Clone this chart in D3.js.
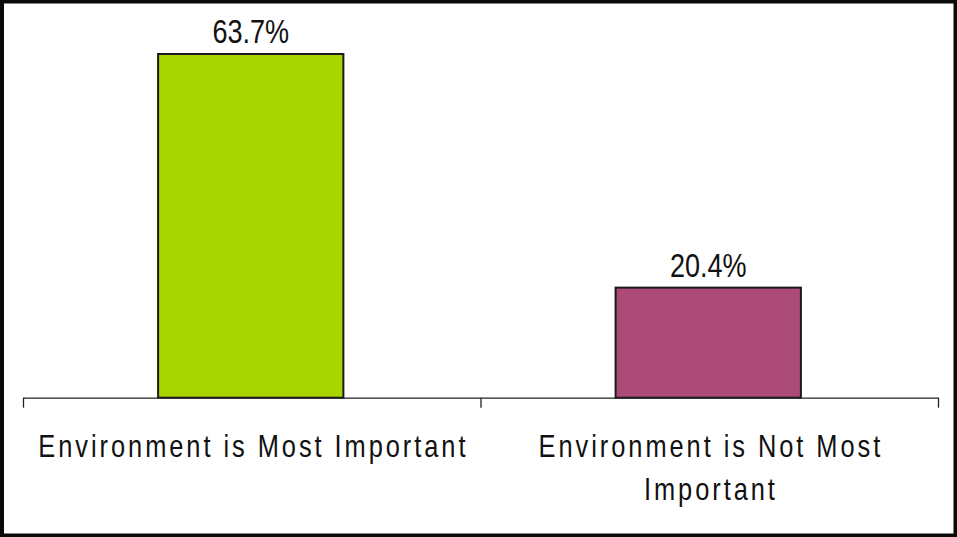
<!DOCTYPE html>
<html>
<head>
<meta charset="utf-8">
<script src="https://cdn.jsdelivr.net/npm/d3@7"></script>
<style>
  html, body { margin: 0; padding: 0; background: #fff; }
  svg { display: block; }
</style>
</head>
<body>
<svg id="chart" width="957" height="537"></svg>
<script>
// Share of respondents by how they rank the environment
const categories = ["Environment is Most Important", "Environment is Not Most Important"];
const labelLines = [["Environment is Most Important"], ["Environment is Not Most", "Important"]];
const values = [63.7, 20.4];
const barColors = ["#A8D400", "#AD4B78"];

const W = 957, H = 537;
const margin = { top: 20, right: 19, bottom: 140, left: 23 };
const svg = d3.select("#chart");
const FONT = "'Liberation Sans', Arial, sans-serif";
const SQUEEZE = 0.82; // narrow face, drawn by compressing the regular one

// frame
svg.append("rect")
  .attr("x", 2).attr("y", 1.5)
  .attr("width", W - 3.5).attr("height", H - 3)
  .attr("fill", "#fff").attr("stroke", "#0a0a0a").attr("stroke-width", 4);

const plotBottom = H - margin.bottom + 0.7;
const x = d3.scaleBand()
  .domain(categories)
  .range([margin.left, W - margin.right])
  .paddingInner(0).paddingOuter(0);

const y = d3.scaleLinear()
  .domain([0, 70])
  .range([plotBottom, margin.top]);

const barW = x.bandwidth() * 0.405;
const cx = i => x(categories[i]) + x.bandwidth() / 2;

// bars
svg.append("g").selectAll("rect")
  .data(values)
  .join("rect")
  .attr("x", (d, i) => cx(i) - barW / 2 - 1)
  .attr("y", d => y(d))
  .attr("width", barW)
  .attr("height", d => plotBottom - y(d))
  .attr("fill", (d, i) => barColors[i])
  .attr("stroke", "#1a1a1a")
  .attr("stroke-width", 2);

// value labels
svg.append("g").selectAll("text")
  .data(values)
  .join("text")
  .attr("transform", (d, i) => `translate(${cx(i) - 1},${y(d) - 10.5}) scale(${SQUEEZE},1)`)
  .attr("text-anchor", "middle")
  .attr("font-family", FONT)
  .attr("font-size", 33)
  .attr("fill", "#111")
  .text(d => d.toFixed(1) + "%");

// category axis with ticks on band boundaries
const edges = d3.scaleLinear().domain([0, categories.length]).range(x.range());
const axis = d3.axisBottom(edges)
  .tickValues(d3.range(categories.length + 1))
  .tickSize(10)
  .tickSizeOuter(0)
  .tickFormat("");
const gAxis = svg.append("g")
  .attr("transform", `translate(0,${plotBottom})`)
  .call(axis);
gAxis.select(".domain").attr("stroke", "#222").attr("stroke-width", 1.3);
gAxis.selectAll(".tick line").attr("stroke", "#222").attr("stroke-width", 1.3);

// category labels
const lab = svg.append("g").selectAll("text")
  .data(labelLines)
  .join("text")
  .attr("transform", (d, i) => `translate(${cx(i)},457) scale(${SQUEEZE},1)`)
  .attr("text-anchor", "middle")
  .attr("font-family", FONT)
  .attr("font-size", 31)
  .attr("letter-spacing", 3.6)
  .attr("fill", "#111");
lab.selectAll("tspan")
  .data(d => d)
  .join("tspan")
  .attr("x", 2)
  .attr("dy", (d, j) => j === 0 ? 0 : 43)
  .text(d => d);
</script>
</body>
</html>
